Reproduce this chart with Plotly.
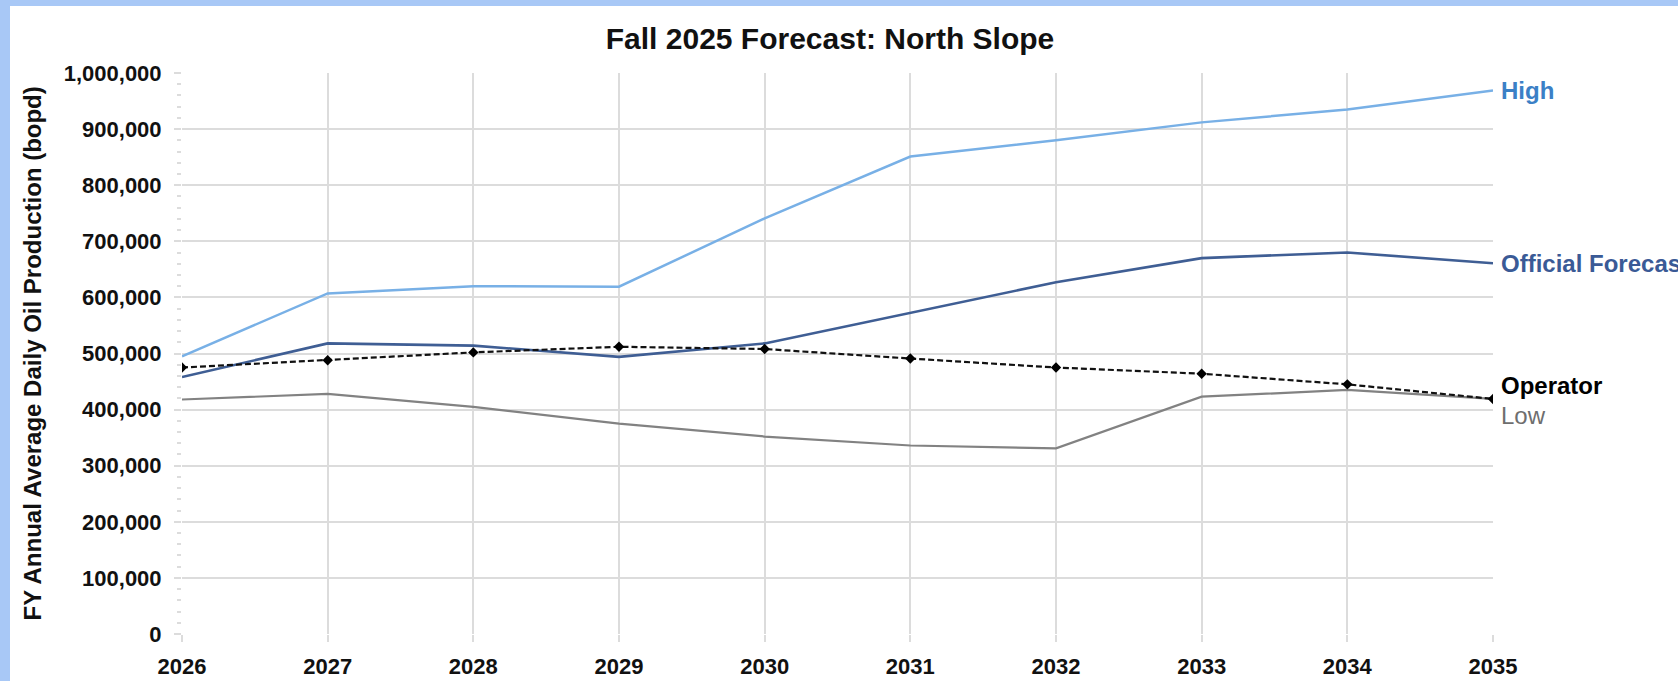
import plotly.graph_objects as go

years = [2026, 2027, 2028, 2029, 2030, 2031, 2032, 2033, 2034, 2035]
high = [495000, 607000, 620000, 619000, 741000, 851000, 880000, 912000, 935000, 969000]
official = [458000, 518000, 514000, 494000, 518000, 573000, 627000, 670000, 680000, 661000]
operator = [475000, 488000, 502000, 512000, 508000, 491000, 475000, 464000, 445000, 419000]
low = [418000, 428000, 405000, 375000, 352000, 336000, 331000, 423000, 435000, 419000]
y_ticks = list(range(0, 1000001, 100000))
y_ticktext = [f"{v:,}" for v in y_ticks]

W, H = 1678, 681
ML, MR, MT, MB = 182, 185, 73, 47
PW = W - ML - MR
PH = H - MT - MB

FONT = "Liberation Sans, Arial, sans-serif"
GRID = "#dcdcdc"

fig = go.Figure()
fig.add_trace(go.Scatter(x=years, y=high, mode="lines",
                         line=dict(color="#78b0e6", width=2.5), name="High"))
fig.add_trace(go.Scatter(x=years, y=low, mode="lines",
                         line=dict(color="#828282", width=2.2), name="Low"))
fig.add_trace(go.Scatter(x=years, y=official, mode="lines",
                         line=dict(color="#3f5e94", width=2.6), name="Official Forecast"))
fig.add_trace(go.Scatter(x=years, y=operator, mode="lines+markers",
                         line=dict(color="#111111", width=2.2, dash="6px,3px"),
                         marker=dict(symbol="diamond", size=8, color="#000000"),
                         name="Operator"))

labels = [
    ("High", high[-1], "#3b80c6", True, 0),
    ("Official Forecast", official[-1], "#3a5a96", True, 0),
    ("Operator", operator[-1], "#000000", True, 13),
    ("Low", low[-1], "#6e6e6e", False, -17),
]
annotations = []
for text, yv, col, bold, ys in labels:
    annotations.append(dict(
        x=years[-1], y=yv, xref="x", yref="y", text=f"<b>{text}</b>" if bold else text,
        showarrow=False, xanchor="left", yanchor="middle", xshift=6, yshift=ys,
        font=dict(family=FONT, size=24, color=col)))

annotations.append(dict(
    x=(32 - ML) / PW, y=0.5, xref="paper", yref="paper",
    text="<b>FY Annual Average Daily Oil Production (bopd)</b>", textangle=-90,
    showarrow=False, xanchor="center", yanchor="middle",
    font=dict(family=FONT, size=24, color="#111111")))

border = "#a8c8f6"
shapes = [
    dict(type="rect", xref="paper", yref="paper", layer="above",
         x0=-ML / PW, x1=(10 - ML) / PW, y0=-MB / PH, y1=(H - MB) / PH,
         fillcolor=border, line=dict(width=0)),
    dict(type="rect", xref="paper", yref="paper", layer="above",
         x0=-ML / PW, x1=(W - ML) / PW, y0=(H - MB - 6) / PH, y1=(H - MB) / PH,
         fillcolor=border, line=dict(width=0)),
]

fig.update_layout(
    width=W, height=H,
    margin=dict(l=ML, r=MR, t=MT, b=MB, autoexpand=False),
    paper_bgcolor="white", plot_bgcolor="white",
    showlegend=False,
    title=dict(text="<b>Fall 2025 Forecast: North Slope</b>", x=830 / W, xref="container",
               xanchor="center", y=1 - 38 / H, yanchor="middle",
               font=dict(family=FONT, size=30, color="#111111")),
    annotations=annotations,
    shapes=shapes,
)
fig.update_xaxes(
    range=[years[0], years[-1]], tickmode="array", tickvals=years,
    ticktext=[str(y) for y in years],
    showgrid=True, gridcolor=GRID, gridwidth=1.5, zeroline=False,
    ticks="outside", ticklen=7, tickcolor=GRID, tickwidth=1.5,
    ticklabelstandoff=6, showline=False,
    tickfont=dict(family=FONT, size=22, color="#111111", weight="bold"),
)
fig.update_yaxes(
    range=[0, 1000000], tickmode="array", tickvals=y_ticks, ticktext=y_ticktext,
    showgrid=True, gridcolor=GRID, gridwidth=1.5, zeroline=False,
    ticks="outside", ticklen=7, tickcolor=GRID, tickwidth=1.5,
    minor=dict(dtick=20000, ticks="outside", ticklen=4, tickcolor=GRID, showgrid=False),
    ticklabelstandoff=8, showline=False,
    tickfont=dict(family=FONT, size=22, color="#111111", weight="bold"),
)

fig.write_html("out.html", config={"displayModeBar": False},
               post_script="document.body.style.margin='0';document.body.style.overflow='hidden';")
